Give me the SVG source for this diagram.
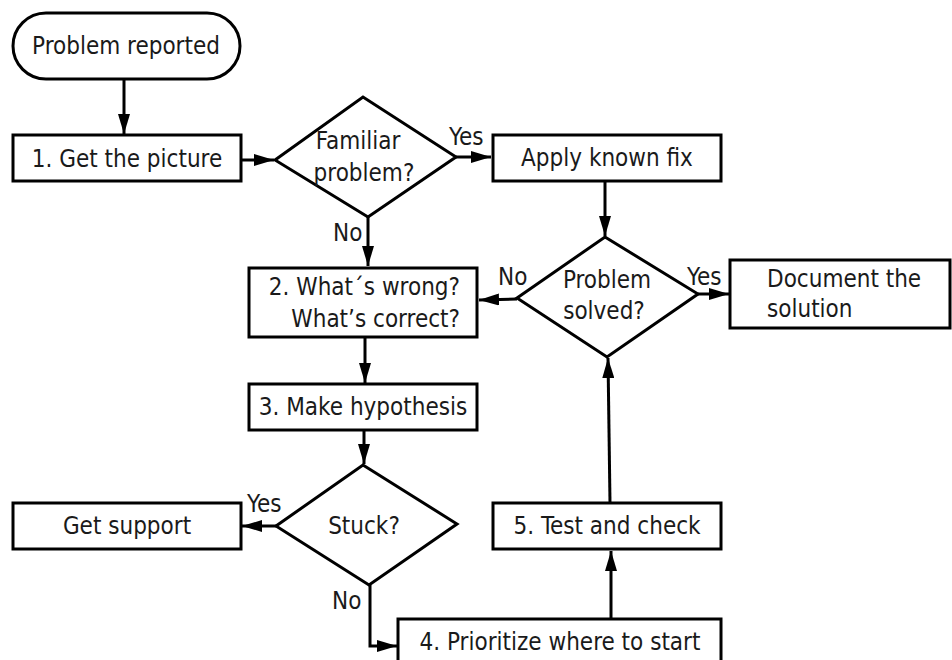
<svg xmlns="http://www.w3.org/2000/svg" width="952" height="660" viewBox="0 0 952 660">
<defs>
<marker id="ah" markerUnits="userSpaceOnUse" markerWidth="20" markerHeight="12" refX="20" refY="6" orient="auto">
<path d="M0,0 L20,6 L0,12 z" fill="#000"/>
</marker>
<style>
.n{fill:#fff;stroke:#000;stroke-width:3}
.t{font-family:"DejaVu Sans Condensed","DejaVu Sans",sans-serif;font-stretch:condensed;font-size:24px;fill:#1a1a1a}
.c{stroke:#000;stroke-width:3;fill:none;marker-end:url(#ah)}
.m{text-anchor:middle}
</style>
</defs>
<rect width="952" height="660" fill="#fff"/>
<g id="start"><rect class="n" x="13" y="13" width="227" height="66" rx="33" ry="33"/><text class="t m" x="126" y="54">Problem reported</text></g>
<g id="step1"><rect class="n" x="13" y="135" width="228" height="46"/><text class="t m" x="127" y="167">1. Get the picture</text></g>
<g id="familiar"><polygon class="n" points="275,160 363,97 456,157 368,217"/><text class="t m" x="358" y="149">Familiar</text><text class="t m" x="364" y="181">problem?</text></g>
<g id="applyfix"><rect class="n" x="493" y="135" width="228" height="46"/><text class="t m" x="607" y="166">Apply known fix</text></g>
<g id="solved"><polygon class="n" points="517,298 605,237 698,294 607,357"/><text class="t m" x="607" y="288">Problem</text><text class="t m" x="604" y="319">solved?</text></g>
<g id="document"><rect class="n" x="730" y="260" width="220" height="68"/><text class="t" x="767" y="287">Document the</text><text class="t" x="767" y="317">solution</text></g>
<g id="step2"><rect class="n" x="249" y="268" width="228" height="69"/><text class="t" x="460" y="295" text-anchor="end">2. What´s wrong?</text><text class="t" x="460" y="327" text-anchor="end">What’s correct?</text></g>
<g id="step3"><rect class="n" x="249" y="384" width="228" height="46"/><text class="t m" x="363" y="415">3. Make hypothesis</text></g>
<g id="stuck"><polygon class="n" points="276,526 363,465 457,524 369,585"/><text class="t m" x="364" y="534">Stuck?</text></g>
<g id="support"><rect class="n" x="13" y="503" width="228" height="46"/><text class="t m" x="127" y="534">Get support</text></g>
<g id="step4"><rect class="n" x="398" y="619" width="323" height="50"/><text class="t m" x="560" y="650">4. Prioritize where to start</text></g>
<g id="step5"><rect class="n" x="493" y="503" width="228" height="46"/><text class="t m" x="607" y="534">5. Test and check</text></g>
<g id="connectors">
<line class="c" x1="124" y1="79" x2="124" y2="134"/>
<line class="c" x1="241" y1="160" x2="274" y2="160"/>
<line class="c" x1="456" y1="157" x2="491" y2="157"/>
<line class="c" x1="605" y1="181" x2="605" y2="236"/>
<line class="c" x1="368" y1="217" x2="368" y2="266"/>
<line class="c" x1="517" y1="299" x2="479" y2="300"/>
<line class="c" x1="698" y1="294" x2="729" y2="294"/>
<line class="c" x1="365" y1="337" x2="365" y2="383"/>
<line class="c" x1="364" y1="430" x2="364" y2="464"/>
<line class="c" x1="276" y1="526" x2="242" y2="526"/>
<polyline class="c" points="370,585 370,646 397,646"/>
<line class="c" x1="611" y1="619" x2="611" y2="551"/>
<line class="c" x1="610" y1="503" x2="608" y2="358"/>
<text class="t" x="449" y="145">Yes</text>
<text class="t" x="333" y="241">No</text>
<text class="t" x="498" y="285">No</text>
<text class="t" x="687" y="285">Yes</text>
<text class="t" x="247" y="512">Yes</text>
<text class="t" x="332" y="609">No</text>
</g>
</svg>
